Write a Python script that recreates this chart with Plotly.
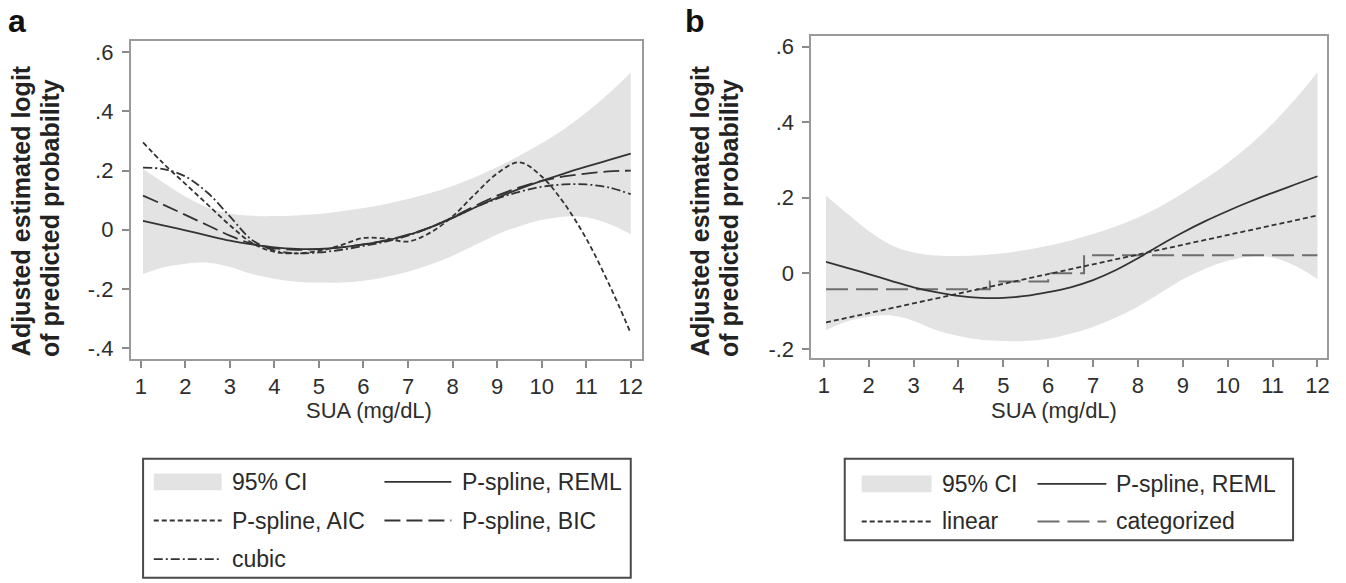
import plotly.graph_objects as go

W, H = 1346, 583

# ---------------- data ----------------
x_grid = [1.05, 1.5, 2, 2.5, 3, 3.5, 4, 4.5, 5, 5.5, 6, 6.5, 7, 7.5, 8, 8.5,
          9, 9.5, 10, 10.5, 11, 11.5, 12]
ci_upper = [0.205, 0.160, 0.112, 0.075, 0.055, 0.047, 0.046, 0.048, 0.053, 0.062,
            0.073, 0.087, 0.104, 0.124, 0.148, 0.177, 0.212, 0.250, 0.292, 0.340,
            0.396, 0.460, 0.532]
ci_lower = [-0.150, -0.128, -0.115, -0.112, -0.126, -0.150, -0.166, -0.176, -0.179,
            -0.179, -0.173, -0.160, -0.142, -0.118, -0.088, -0.052, -0.016, 0.012,
            0.033, 0.044, 0.042, 0.020, -0.015]
reml = [0.030, 0.015, -0.002, -0.020, -0.037, -0.050, -0.060, -0.065, -0.065, -0.060,
        -0.050, -0.037, -0.018, 0.008, 0.040, 0.075, 0.108, 0.138, 0.165, 0.190,
        0.213, 0.235, 0.257]
aic = [0.295, 0.225, 0.155, 0.085, 0.015, -0.045, -0.075, -0.080, -0.072, -0.052,
       -0.028, -0.030, -0.040, -0.010, 0.045, 0.120, 0.190, 0.228, 0.180, 0.090,
       -0.030, -0.180, -0.350]
bic = [0.115, 0.085, 0.050, 0.015, -0.020, -0.048, -0.063, -0.068, -0.066, -0.060,
       -0.050, -0.036, -0.017, 0.008, 0.042, 0.080, 0.115, 0.143, 0.165, 0.180,
       0.190, 0.197, 0.200]
cubic = [0.210, 0.205, 0.180, 0.125, 0.045, -0.035, -0.070, -0.080, -0.077, -0.068,
         -0.055, -0.040, -0.020, 0.008, 0.040, 0.075, 0.105, 0.128, 0.145, 0.153,
         0.153, 0.143, 0.120]
linear_x = [1.05, 12]
linear_y = [-0.130, 0.153]
cat_x = [1.05, 4.7, 6.0, 6.8, 12]
cat_y = [-0.042, -0.022, 0.000, 0.048, 0.048]

x_ticks = list(range(1, 13))
ya_ticks = [-0.4, -0.2, 0, 0.2, 0.4, 0.6]
ya_text = ['-.4', '-.2', '0', '.2', '.4', '.6']
yb_ticks = [-0.2, 0, 0.2, 0.4, 0.6]
yb_text = ['-.2', '0', '.2', '.4', '.6']

legend_a = ['95% CI', 'P-spline, REML', 'P-spline, AIC', 'P-spline, BIC', 'cubic']
legend_b = ['95% CI', 'P-spline, REML', 'linear', 'categorized']

# ---------------- style ----------------
FONT = 'Liberation Sans, Arial, sans-serif'
BAND = '#e3e3e3'
LINE = '#333333'
LW = 1.8
DASH_AIC = '5px,3px'
DASH_BIC = '16px,6px'
DASH_CUBIC = '9px,3px,2px,3px'
DASH_LIN = '5px,3px'
DASH_CAT = '22px,8px'


def px(x):
    return x / W


def py(y):
    return 1 - y / H


fig = go.Figure()


def add_band(xa, ya):
    fig.add_trace(go.Scatter(x=x_grid, y=ci_upper, mode='lines', line=dict(width=0, shape='spline'),
                             xaxis=xa, yaxis=ya, showlegend=False, hoverinfo='skip'))
    fig.add_trace(go.Scatter(x=x_grid, y=ci_lower, mode='lines', line=dict(width=0, shape='spline'),
                             fill='tonexty', fillcolor=BAND, xaxis=xa, yaxis=ya,
                             showlegend=False, hoverinfo='skip'))


# panel a
add_band('x', 'y')
for yy, dash in [(cubic, DASH_CUBIC), (aic, DASH_AIC), (bic, DASH_BIC), (reml, 'solid')]:
    fig.add_trace(go.Scatter(x=x_grid, y=yy, mode='lines',
                             line=dict(color=LINE, width=LW, dash=dash, shape='spline'),
                             xaxis='x', yaxis='y', showlegend=False))

# panel b
add_band('x2', 'y2')
fig.add_trace(go.Scatter(x=cat_x, y=cat_y, mode='lines',
                         line=dict(color='#6e6e6e', width=2, dash=DASH_CAT, shape='hv'),
                         xaxis='x2', yaxis='y2', showlegend=False))
fig.add_trace(go.Scatter(x=linear_x, y=linear_y, mode='lines',
                         line=dict(color=LINE, width=LW, dash=DASH_LIN),
                         xaxis='x2', yaxis='y2', showlegend=False))
fig.add_trace(go.Scatter(x=x_grid, y=reml, mode='lines',
                         line=dict(color=LINE, width=LW, shape='spline'),
                         xaxis='x2', yaxis='y2', showlegend=False))

axis_common = dict(showgrid=False, zeroline=False, showline=True, mirror=True,
                   linecolor='#9a9a9a', linewidth=2, ticks='outside', ticklen=7,
                   tickcolor='#8a8a8a', tickwidth=1.5,
                   tickfont=dict(family=FONT, size=22, color='#2e2e2e'))

fig.update_layout(
    width=W, height=H, autosize=False,
    margin=dict(l=0, r=0, t=0, b=0),
    paper_bgcolor='white', plot_bgcolor='white',
    xaxis=dict(domain=[px(131), px(642.7)], range=[0.776, 12.247], anchor='y',
               tickvals=x_ticks, ticklabelstandoff=0, **axis_common),
    yaxis=dict(domain=[py(360.7), py(40.7)], range=[-0.436, 0.637], anchor='x',
               tickvals=ya_ticks, ticktext=ya_text, ticklabelstandoff=4, **axis_common),
    xaxis2=dict(domain=[px(812.7), px(1329.3)], range=[0.726, 12.22], anchor='y2',
                tickvals=x_ticks, ticklabelstandoff=0, **axis_common),
    yaxis2=dict(domain=[py(360), py(35)], range=[-0.224, 0.629], anchor='x2',
                tickvals=yb_ticks, ticktext=yb_text, ticklabelstandoff=4, **axis_common),
    showlegend=False,
)

ann = []
shapes = []


def text(x, y, s, size=23, bold=False, angle=0, xanchor='left', color='#2a2a2a'):
    ann.append(dict(x=px(x), y=py(y), xref='paper', yref='paper', text=(f'<b>{s}</b>' if bold else s),
                    showarrow=False, xanchor=xanchor, yanchor='middle', textangle=angle,
                    font=dict(family=FONT, size=size, color=color)))


# panel letters
text(17.5, 20, 'a', size=32, bold=True, xanchor='center', color='#111')
text(696, 20, 'b', size=32, bold=True, xanchor='center', color='#111')

# y titles
for x0 in (21, 701):
    text(x0, 211, 'Adjusted estimated logit', size=25, bold=True, angle=-90, xanchor='center', color='#222')
    text(x0 + 29, 219, 'of predicted probability', size=25, bold=True, angle=-90, xanchor='center', color='#222')

# x titles
text(370, 413, 'SUA (mg/dL)', size=22, xanchor='center', color='#2e2e2e')
text(1056, 413, 'SUA (mg/dL)', size=22, xanchor='center', color='#2e2e2e')


def box(x0, y0, x1, y1):
    shapes.append(dict(type='rect', xref='paper', yref='paper', x0=px(x0), x1=px(x1), y0=py(y1), y1=py(y0),
                       line=dict(color='#4a4a4a', width=2), fillcolor='rgba(0,0,0,0)'))


def swatch(x0, x1, yc):
    shapes.append(dict(type='rect', xref='paper', yref='paper', x0=px(x0), x1=px(x1),
                       y0=py(yc + 8.5), y1=py(yc - 8.5), line=dict(width=0), fillcolor=BAND))


def sample(x0, x1, yc, dash, color=LINE, width=LW):
    shapes.append(dict(type='line', xref='paper', yref='paper', x0=px(x0), x1=px(x1),
                       y0=py(yc), y1=py(yc), line=dict(color=color, width=width, dash=dash)))


# legend a
box(143.3, 461.7, 631.7, 581.7)
ra = [485, 524, 563]
swatch(154, 222, ra[0]); text(230, ra[0], legend_a[0])
sample(385, 452, ra[0], 'solid'); text(460.7, ra[0], legend_a[1])
sample(154, 222, ra[1], DASH_AIC); text(230, ra[1], legend_a[2])
sample(385, 452, ra[1], DASH_BIC); text(460.7, ra[1], legend_a[3])
sample(154, 222, ra[2], DASH_CUBIC); text(230, ra[2], legend_a[4])

# legend b
box(846, 461.7, 1295, 544)
rb = [487, 525]
swatch(863, 933, rb[0]); text(941.7, rb[0], legend_b[0])
sample(1039, 1108, rb[0], 'solid'); text(1116, rb[0], legend_b[1])
sample(863, 933, rb[1], DASH_LIN); text(941.7, rb[1], legend_b[2])
sample(1039, 1108, rb[1], DASH_CAT, color='#6e6e6e', width=2); text(1116, rb[1], legend_b[3])

fig.update_layout(annotations=ann, shapes=shapes)
fig.write_html('out.html')
